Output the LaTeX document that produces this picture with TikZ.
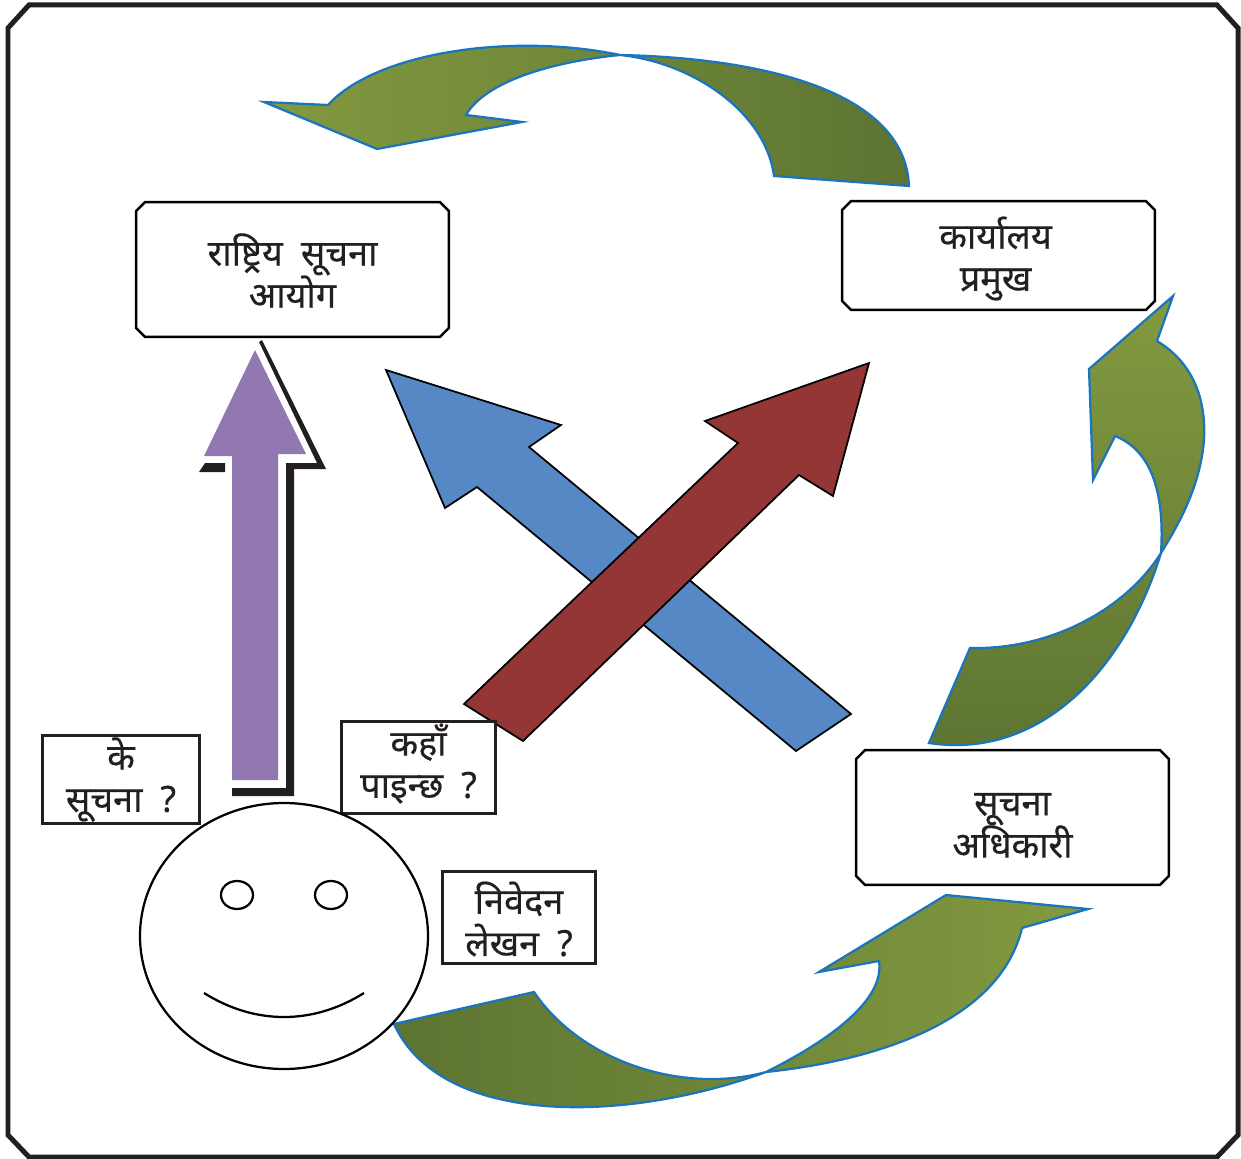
\documentclass[tikz,border=0pt]{standalone}
\usepackage{fontspec}
\newfontfamily\devfont[Script=Devanagari,FakeBold=0.4]{Noto Sans}
\definecolor{ink}{HTML}{231F20}
\definecolor{curvedge}{HTML}{1B75BC}
\definecolor{oliveL}{HTML}{839A40}
\definecolor{oliveD}{HTML}{5C7431}
\definecolor{purp}{HTML}{9178B0}
\definecolor{blu}{HTML}{5688C6}
\definecolor{redd}{HTML}{933635}
\newcommand{\cutframe}[1]{%
  \draw[draw=black,line width=0.05cm]
    ([xshift=0.18cm]#1.north west)--([xshift=-0.18cm]#1.north east)--([yshift=-0.18cm]#1.north east)
    --([yshift=0.18cm]#1.south east)--([xshift=-0.18cm]#1.south east)--([xshift=0.18cm]#1.south west)
    --([yshift=0.18cm]#1.south west)--([yshift=-0.18cm]#1.north west)--cycle;}
\tikzset{
  x=0.02cm,y=-0.02cm,
  lab/.style={font=\devfont\fontsize{20.5}{24}\selectfont,text=ink,align=center,inner sep=0pt},
  bigbox/.style={rectangle,minimum width=6.26cm,inner sep=0pt,outer sep=0pt},
  qbox/.style={rectangle,draw=ink,line width=0.06cm,fill=white,inner sep=0pt},
  curved/.style={draw=curvedge,line width=0.045cm},
  flat/.style={draw=black,line width=0.035cm},
  faceline/.style={draw=black,line width=0.045cm}
}
\begin{document}
\begin{tikzpicture}
\useasboundingbox (0,0) rectangle (1241,1159);
% frame
\draw[ink,line width=0.1cm,line join=miter] (29,5)--(1217,5)--(1238,28)--(1238,1135)--(1217,1157)--(29,1157)--(8,1135)--(8,28)--cycle;
% curved arrows
\path[curved,left color=oliveL,right color=oliveD]
 (264,102)--(328,105)
 .. controls (375,53) and (510,32) .. (620,55)
 .. controls (760,58) and (905,90) .. (909,186)
 --(774,176)
 .. controls (765,110) and (690,62) .. (620,55)
 .. controls (550,62) and (485,82) .. (466,115)
 --(522,122)--(377,149)--cycle;
\path[curved,top color=oliveL,bottom color=oliveD]
 (1173,296)--(1157,341)
 .. controls (1205,370) and (1205,420) .. (1204,440)
 .. controls (1200,490) and (1175,530) .. (1161,553)
 .. controls (1125,670) and (1040,760) .. (929,743)
 --(970,648)
 .. controls (1050,650) and (1125,610) .. (1161,553)
 .. controls (1165,490) and (1150,450) .. (1115,436)
 --(1093,480)--(1089,369)--cycle;
\path[curved,left color=oliveD,right color=oliveL]
 (394,1024)--(534,992)
 .. controls (580,1060) and (680,1095) .. (766,1072)
 .. controls (830,1040) and (885,1000) .. (879,961)
 --(819,972)--(946,895)--(1088,909)--(1022,928)
 .. controls (1000,1020) and (880,1060) .. (766,1072)
 .. controls (620,1125) and (440,1125) .. (394,1024)--cycle;
% crossing arrows
\path[flat,fill=blu] (386,370)--(561,425)--(529,447)--(851,714)--(796,751)--(477,487)--(445,508)--cycle;
\path[flat,fill=redd] (869,363)--(833,496)--(799,475)--(523,741)--(464,704)--(738,443)--(705,421)--cycle;
% purple arrow and shadow
\fill[ink] (262,340)--(326,469)--(294,469)--(294,796)--(232,796)--(232,788)--(286,788)--(286,463)--(317,463)--(259,342)--cycle;
\fill[ink] (199,472)--(205,463)--(225,463)--(225,472)--cycle;
\fill[purp] (255,350)--(306,454)--(278,454)--(278,780)--(232,780)--(232,456)--(204,456)--cycle;
% boxes
\node[bigbox,minimum height=2.7cm,label={[lab,yshift=-0.02cm]center:राष्ट्रिय\enspace सूचना\\आयोग}] (nic) at (292.5,269.5) {};
\cutframe{nic}
\node[bigbox,minimum height=2.18cm,label={[lab,yshift=-0.06cm,xshift=-0.06cm]center:कार्यालय\\प्रमुख}] (chief) at (998.5,255.5) {};
\cutframe{chief}
\node[bigbox,minimum height=2.7cm,label={[lab,yshift=-0.16cm]center:सूचना\\अधिकारी}] (officer) at (1012.5,817.5) {};
\cutframe{officer}
\node[qbox,minimum width=3.16cm,minimum height=1.78cm,label={[lab]center:के\\सूचना\enspace ?}] (who) at (121,779.5) {};
\node[qbox,minimum width=3.1cm,minimum height=1.86cm,label={[lab,yshift=0.08cm]center:कहाँ\\पाइन्छ\enspace ?}] (where) at (418.5,767.5) {};
\node[qbox,minimum width=3.08cm,minimum height=1.86cm,label={[lab,yshift=-0.03cm]center:निवेदन\\लेखन\enspace ?}] (apply) at (519,917.5) {};
% face
\draw[faceline,fill=white] (284,936) ellipse [x radius=144,y radius=133];
\draw[faceline] (237,895) ellipse [x radius=16,y radius=14];
\draw[faceline] (331,895) ellipse [x radius=16,y radius=14];
\draw[faceline] (204,993) .. controls (255,1025) and (313,1025) .. (364,993);
\end{tikzpicture}
\end{document}
